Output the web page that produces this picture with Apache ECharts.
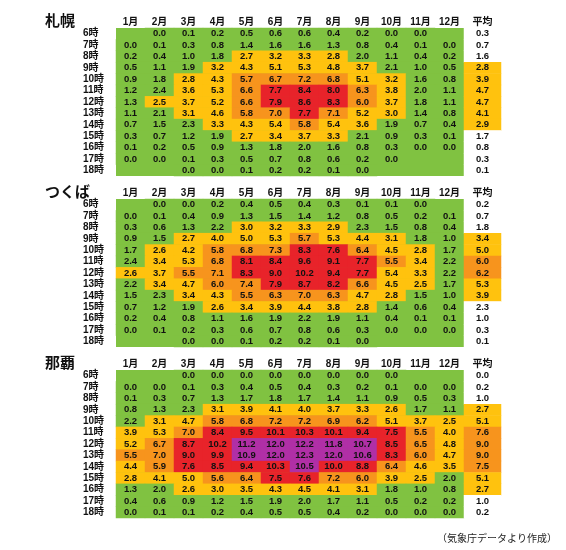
<!DOCTYPE html>
<html>
<head>
<meta charset="utf-8">
<script src="https://cdn.jsdelivr.net/npm/echarts@6/dist/echarts.min.js"></script>
<style>
  html, body { margin: 0; padding: 0; background: #fff; }
  #chart { width: 566px; height: 550px; }
</style>
</head>
<body>
<div id="chart"></div>
<script>
  // 日射量 (時刻別・月別) 札幌 / つくば / 那覇
  const hours = ['6時', '7時', '8時', '9時', '10時', '11時', '12時', '13時', '14時', '15時', '16時', '17時', '18時'];
  const months = ['1月', '2月', '3月', '4月', '5月', '6月', '7月', '8月', '9月', '10月', '11月', '12月'];
  const avgName = ['平均'];
  const cities = ['札幌', 'つくば', '那覇'];

  const sapporo = [
    [null, 0.0, 0.1, 0.2, 0.5, 0.6, 0.6, 0.4, 0.2, 0.0, 0.0, null],
    [0.0, 0.1, 0.3, 0.8, 1.4, 1.6, 1.6, 1.3, 0.8, 0.4, 0.1, 0.0],
    [0.2, 0.4, 1.0, 1.8, 2.7, 3.2, 3.3, 2.8, 2.0, 1.1, 0.4, 0.2],
    [0.5, 1.1, 1.9, 3.2, 4.3, 5.1, 5.3, 4.8, 3.7, 2.1, 1.0, 0.5],
    [0.9, 1.8, 2.8, 4.3, 5.7, 6.7, 7.2, 6.8, 5.1, 3.2, 1.6, 0.8],
    [1.2, 2.4, 3.6, 5.3, 6.6, 7.7, 8.4, 8.0, 6.3, 3.8, 2.0, 1.1],
    [1.3, 2.5, 3.7, 5.2, 6.6, 7.9, 8.6, 8.3, 6.0, 3.7, 1.8, 1.1],
    [1.1, 2.1, 3.1, 4.6, 5.8, 7.0, 7.7, 7.1, 5.2, 3.0, 1.4, 0.8],
    [0.7, 1.5, 2.3, 3.3, 4.3, 5.4, 5.8, 5.4, 3.6, 1.9, 0.7, 0.4],
    [0.3, 0.7, 1.2, 1.9, 2.7, 3.4, 3.7, 3.3, 2.1, 0.9, 0.3, 0.1],
    [0.1, 0.2, 0.5, 0.9, 1.3, 1.8, 2.0, 1.6, 0.8, 0.3, 0.0, 0.0],
    [0.0, 0.0, 0.1, 0.3, 0.5, 0.7, 0.8, 0.6, 0.2, 0.0, null, null],
    [null, null, 0.0, 0.0, 0.1, 0.2, 0.2, 0.1, 0.0, null, null, null]
  ];
  const sapporoAvg = [0.3, 0.7, 1.6, 2.8, 3.9, 4.7, 4.7, 4.1, 2.9, 1.7, 0.8, 0.3, 0.1];

  const tsukuba = [
    [null, 0.0, 0.0, 0.2, 0.4, 0.5, 0.4, 0.3, 0.1, 0.1, 0.0, null],
    [0.0, 0.1, 0.4, 0.9, 1.3, 1.5, 1.4, 1.2, 0.8, 0.5, 0.2, 0.1],
    [0.3, 0.6, 1.3, 2.2, 3.0, 3.2, 3.3, 2.9, 2.3, 1.5, 0.8, 0.4],
    [0.9, 1.5, 2.7, 4.0, 5.0, 5.3, 5.7, 5.3, 4.4, 3.1, 1.8, 1.0],
    [1.7, 2.6, 4.2, 5.8, 6.8, 7.3, 8.3, 7.6, 6.4, 4.5, 2.8, 1.7],
    [2.4, 3.4, 5.3, 6.8, 8.1, 8.4, 9.6, 9.1, 7.7, 5.5, 3.4, 2.2],
    [2.6, 3.7, 5.5, 7.1, 8.3, 9.0, 10.2, 9.4, 7.7, 5.4, 3.3, 2.2],
    [2.2, 3.4, 4.7, 6.0, 7.4, 7.9, 8.7, 8.2, 6.6, 4.5, 2.5, 1.7],
    [1.5, 2.3, 3.4, 4.3, 5.5, 6.3, 7.0, 6.3, 4.7, 2.8, 1.5, 1.0],
    [0.7, 1.2, 1.9, 2.6, 3.4, 3.9, 4.4, 3.8, 2.8, 1.4, 0.6, 0.4],
    [0.2, 0.4, 0.8, 1.1, 1.6, 1.9, 2.2, 1.9, 1.1, 0.4, 0.1, 0.1],
    [0.0, 0.1, 0.2, 0.3, 0.6, 0.7, 0.8, 0.6, 0.3, 0.0, 0.0, 0.0],
    [null, null, 0.0, 0.0, 0.1, 0.2, 0.2, 0.1, 0.0, null, null, null]
  ];
  const tsukubaAvg = [0.2, 0.7, 1.8, 3.4, 5.0, 6.0, 6.2, 5.3, 3.9, 2.3, 1.0, 0.3, 0.1];

  const naha = [
    [null, null, 0.0, 0.0, 0.0, 0.0, 0.0, 0.0, 0.0, 0.0, null, null],
    [0.0, 0.0, 0.1, 0.3, 0.4, 0.5, 0.4, 0.3, 0.2, 0.1, 0.0, 0.0],
    [0.1, 0.3, 0.7, 1.3, 1.7, 1.8, 1.7, 1.4, 1.1, 0.9, 0.5, 0.3],
    [0.8, 1.3, 2.3, 3.1, 3.9, 4.1, 4.0, 3.7, 3.3, 2.6, 1.7, 1.1],
    [2.2, 3.1, 4.7, 5.8, 6.8, 7.2, 7.2, 6.9, 6.2, 5.1, 3.7, 2.5],
    [3.9, 5.3, 7.0, 8.4, 9.5, 10.1, 10.3, 10.1, 9.4, 7.5, 5.5, 4.0],
    [5.2, 6.7, 8.7, 10.2, 11.2, 12.0, 12.2, 11.8, 10.7, 8.5, 6.5, 4.8],
    [5.5, 7.0, 9.0, 9.9, 10.9, 12.0, 12.3, 12.0, 10.6, 8.3, 6.0, 4.7],
    [4.4, 5.9, 7.6, 8.5, 9.4, 10.3, 10.5, 10.0, 8.8, 6.4, 4.6, 3.5],
    [2.8, 4.1, 5.0, 5.6, 6.4, 7.5, 7.6, 7.2, 6.0, 3.9, 2.5, 2.0],
    [1.3, 2.0, 2.6, 3.0, 3.5, 4.3, 4.5, 4.1, 3.1, 1.8, 1.0, 0.8],
    [0.4, 0.6, 0.9, 1.2, 1.5, 1.9, 2.0, 1.7, 1.1, 0.5, 0.2, 0.2],
    [0.0, 0.1, 0.1, 0.2, 0.4, 0.5, 0.5, 0.4, 0.2, 0.0, 0.0, 0.0]
  ];
  const nahaAvg = [0.0, 0.2, 1.0, 2.7, 5.1, 7.6, 9.0, 9.0, 7.5, 5.1, 2.7, 1.0, 0.2];

  const tables = [sapporo, tsukuba, naha];
  const avgs = [sapporoAvg, tsukubaAvg, nahaAvg];

  const GREEN = '#80c241';
  const YELLOW = '#ffc20e';
  const ORANGE = '#f7941d';
  const RED = '#e8232a';
  const PURPLE = '#b02fa6';
  const FONT = '"Liberation Sans", "Noto Sans CJK JP", sans-serif';

  const panelTop = [28, 199, 370];
  const panelH = 148;

  const chart = echarts.init(document.getElementById('chart'));

  const grids = [], xAxes = [], yAxes = [], series = [], titles = [];
  const monthSeries = [], avgSeries = [];

  const valueLabel = {
    show: true, color: '#111', fontSize: 9.5, fontWeight: 'bold', fontFamily: FONT,
    formatter: function (p) { return p.value[2].toFixed(1); }
  };

  cities.forEach(function (city, i) {
    // 月別の表
    grids.push({ left: 116, top: panelTop[i], width: 348, height: panelH, show: true, backgroundColor: GREEN, borderWidth: 0 });
    // 平均の列
    grids.push({ left: 464, top: panelTop[i], width: 37, height: panelH, show: false });

    [months, avgName].forEach(function (cats, k) {
      xAxes.push({
        type: 'category', gridIndex: 2 * i + k, data: cats, position: 'top',
        axisLine: { show: false }, axisTick: { show: false }, splitLine: { show: false },
        axisLabel: { color: '#111', fontSize: 10, fontWeight: 'bold', fontFamily: FONT, margin: 1, interval: 0 }
      });
      yAxes.push({
        type: 'category', gridIndex: 2 * i + k, data: hours, inverse: true,
        axisLine: { show: false }, axisTick: { show: false }, splitLine: { show: false },
        axisLabel: { show: k === 0, color: '#111', fontSize: 10, fontWeight: 'bold', fontFamily: FONT, align: 'left', margin: 33, interval: 0 }
      });
    });

    const cells = [];
    tables[i].forEach(function (row, r) {
      row.forEach(function (v, c) {
        if (v !== null) cells.push([c, r, v]);
      });
    });
    const avgCells = avgs[i].map(function (v, r) { return [0, r, v]; });

    monthSeries.push(series.length);
    series.push({
      type: 'heatmap', xAxisIndex: 2 * i, yAxisIndex: 2 * i, data: cells,
      label: valueLabel, emphasis: { disabled: true }
    });
    avgSeries.push(series.length);
    series.push({
      type: 'heatmap', xAxisIndex: 2 * i + 1, yAxisIndex: 2 * i + 1, data: avgCells,
      label: valueLabel, emphasis: { disabled: true }
    });

    titles.push({ text: city, left: 45, top: panelTop[i] - 14, padding: 0, textStyle: { fontSize: 15, fontWeight: 'bold', color: '#111', fontFamily: FONT } });
  });

  titles.push({ text: '（気象庁データより作成）', right: 9, top: 534, padding: 0, textStyle: { fontSize: 10, fontWeight: 'normal', color: '#222', fontFamily: FONT } });

  chart.setOption({
    animation: false,
    title: titles,
    grid: grids,
    xAxis: xAxes,
    yAxis: yAxes,
    visualMap: [{
      type: 'piecewise', show: false, seriesIndex: monthSeries, dimension: 2,
      pieces: [
        { lt: 2.5, color: GREEN },
        { gte: 2.5, lt: 5.5, color: YELLOW },
        { gte: 5.5, lt: 7.5, color: ORANGE },
        { gte: 7.5, lt: 10.5, color: RED },
        { gte: 10.5, color: PURPLE }
      ]
    }, {
      type: 'piecewise', show: false, seriesIndex: avgSeries, dimension: 2,
      pieces: [
        { lt: 2.5, color: '#ffffff' },
        { gte: 2.5, lt: 5.5, color: YELLOW },
        { gte: 5.5, color: ORANGE }
      ]
    }],
    series: series
  });
</script>
</body>
</html>
